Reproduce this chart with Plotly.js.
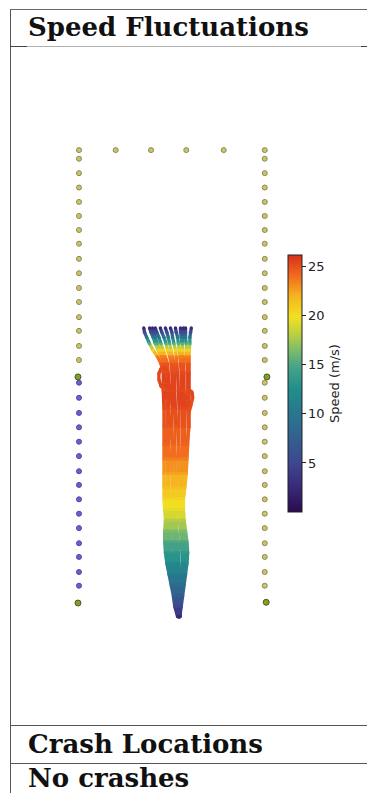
<!DOCTYPE html>
<html><head><meta charset="utf-8">
<script src="https://cdn.plot.ly/plotly-3.0.1.min.js"></script>
<style>html,body{margin:0;padding:0;background:#fff;} #chart{width:367px;height:793px;}</style>
</head><body><div id="chart"></div>
<script>
// ---- boundary points (metres) ----
const leftOliveY  = [61.7, 59.7, 57.7, 55.7, 53.75, 51.8, 49.9, 47.8, 45.8, 43.75, 41.8, 39.7, 37.8, 35.7, 33.75];
const leftBlueY   = [30.6, 28.5, 26.4, 24.4, 22.4, 20.4, 18.3, 16.4, 14.4, 12.4, 10.4, 8.3, 6.4, 4.3, 2.4];
const rightOliveY = [61.7, 59.7, 57.7, 55.7, 53.75, 51.8, 49.9, 47.8, 45.8, 43.75, 41.8, 39.7, 37.8, 35.7, 33.75,
                     30.6, 28.5, 26.4, 24.4, 22.4, 20.4, 18.3, 16.4, 14.4, 12.4, 10.4, 8.3, 6.4, 4.3, 2.4];
const leftColX = 0.0;
const rightColX = 25.8;
const topRowX = [0.0, 5.1, 10.0, 14.9, 20.1, 25.8];
const topRowY = 62.9;
const goalX = [-0.14, 26.1, -0.14, 26.0];
const goalY = [31.4, 31.4, 0.0, 0.1];

// ---- trajectories: common stations ----
const stationY = [-1.9, -0.5, 1.0, 2.5, 4.0, 5.5, 7.0, 8.5, 10.0, 11.5, 13.0, 14.5, 16.0, 18.0, 20.0, 22.0, 24.5, 27.0, 29.5, 32.0, 33.2, 34.2, 35.1, 36.0, 36.9, 37.6, 38.2];
const stationSpeed = [2.5, 5.0, 7.0, 9.0, 10.5, 12.0, 13.5, 15.0, 16.5, 18.0, 19.5, 20.5, 21.5, 22.5, 23.5, 24.3, 24.8, 25.2, 25.3, 25.2, 24.8, 23.5, 20.5, 15.5, 10.0, 5.5, 2.5];

const traj01X = [13.7, 13.3, 13.1, 12.8, 12.5, 12.2, 12.0, 11.9, 11.9, 12.0, 11.9, 11.8, 11.8, 11.8, 11.8, 11.8, 11.8, 11.8, 11.7, 11.7, 11.4, 10.9, 10.3, 9.8, 9.4, 9.1, 9.0];
const traj02X = [13.8, 13.5, 13.3, 13.1, 12.8, 12.6, 12.4, 12.4, 12.3, 12.2, 12.2, 12.1, 12.2, 12.3, 12.2, 12.1, 12.2, 12.3, 12.1, 12.0, 11.8, 11.4, 11.0, 10.6, 10.3, 10.0, 9.8];
const traj03X = [13.8, 13.6, 13.4, 13.3, 13.1, 12.9, 12.8, 12.7, 12.6, 12.6, 12.5, 12.4, 12.4, 12.5, 12.6, 12.5, 12.6, 12.5, 12.6, 12.4, 12.3, 12.0, 11.7, 11.4, 11.1, 10.8, 10.6];
const traj04X = [13.9, 13.7, 13.6, 13.5, 13.4, 13.3, 13.2, 13.1, 13.0, 12.9, 12.8, 12.8, 12.9, 12.9, 13.0, 13.0, 12.9, 13.0, 13.0, 12.9, 12.8, 12.6, 12.3, 12.1, 11.8, 11.5, 11.3];
const traj05X = [13.9, 13.8, 13.7, 13.7, 13.6, 13.5, 13.5, 13.4, 13.3, 13.2, 13.1, 13.1, 13.2, 13.3, 13.4, 13.3, 13.4, 13.4, 13.3, 13.3, 13.2, 13.0, 12.8, 12.6, 12.4, 12.2, 12.0];
const traj06X = [13.9, 13.9, 13.9, 13.9, 13.9, 13.8, 13.8, 13.8, 13.6, 13.5, 13.4, 13.5, 13.6, 13.7, 13.8, 13.8, 13.8, 13.9, 13.8, 13.7, 13.6, 13.5, 13.4, 13.2, 13.0, 12.9, 12.7];
const traj07X = [13.9, 14.0, 14.0, 14.1, 14.2, 14.3, 14.3, 14.2, 14.1, 13.9, 13.8, 13.8, 14.0, 14.1, 14.2, 14.3, 14.3, 14.3, 14.2, 14.2, 14.1, 14.0, 13.9, 13.8, 13.7, 13.5, 13.4];
const traj08X = [14.0, 14.1, 14.3, 14.4, 14.6, 14.7, 14.7, 14.6, 14.4, 14.2, 14.1, 14.1, 14.3, 14.5, 14.6, 14.7, 14.7, 14.7, 14.6, 14.6, 14.5, 14.5, 14.4, 14.3, 14.2, 14.1, 14.1];
const traj09X = [14.0, 14.2, 14.4, 14.6, 14.8, 15.0, 15.1, 15.0, 14.8, 14.6, 14.5, 14.5, 14.7, 14.9, 15.0, 15.1, 15.2, 15.1, 15.1, 15.1, 15.0, 14.9, 14.9, 14.9, 14.8, 14.8, 14.8];
const traj10X = [14.0, 14.1, 14.2, 14.5, 14.7, 14.9, 14.9, 14.8, 14.7, 14.5, 14.5, 14.5, 14.6, 14.7, 14.8, 15.0, 15.3, 15.3, 15.3, 15.3, 15.3, 15.3, 15.3, 15.4, 15.4, 15.5, 15.6];
const traj11X = [13.8, 13.5, 13.3, 13.0, 12.7, 12.4, 12.2, 12.1, 12.2, 12.4, 12.3, 12.3, 12.3, 12.2, 12.3, 12.4, 12.3, 12.2, 12.3, 12.2, 12.0, 11.7, 11.3, 10.9, 10.6, 10.4, 10.2];
const traj12X = [14.0, 14.0, 14.1, 14.2, 14.3, 14.4, 14.4, 14.3, 14.2, 14.1, 14.0, 14.0, 14.1, 14.3, 14.5, 14.5, 14.5, 14.6, 14.5, 14.4, 14.3, 14.2, 14.3, 14.4, 14.5, 14.5, 14.5];

// ---- looping trajectories ----
const loopLeftX = [12.2, 11.9, 11.4, 11.1, 11.1, 11.4, 11.8, 12.1, 12.1, 11.8, 11.7];
const loopLeftY = [28.2, 29.6, 30.1, 31.0, 31.9, 32.6, 32.8, 32.4, 31.5, 30.6, 29.9];
const loopLeftSpeed = [25.2, 25.2, 25.3, 25.3, 25.3, 25.2, 25.2, 25.3, 25.3, 25.2, 25.2];
const loopRightX = [15.3, 15.55, 15.8, 15.7, 15.3, 15.0, 15.1, 15.4];
const loopRightY = [26.5, 27.5, 28.5, 29.3, 29.6, 29.0, 28.1, 27.1];
const loopRightSpeed = [25.0, 25.1, 25.2, 25.3, 25.3, 25.2, 25.2, 25.1];

// ---- colour scale ----
const speedMin = 0, speedMax = 26.2;
const speedTicks = [5, 10, 15, 20, 25];
const speedScale = [[0, '#2b0b4f'], [0.1, '#3a2a7a'], [0.19, '#3e478e'], [0.3, '#32638f'], [0.38, '#2a758e'],
  [0.48, '#218f8b'], [0.57, '#4aa587'], [0.64, '#86c064'], [0.7, '#c2d23e'], [0.76, '#f2e022'],
  [0.84, '#f6b41f'], [0.92, '#f26a1e'], [1, '#d8301c']];

function hexToRgb(h){ return [parseInt(h.slice(1,3),16), parseInt(h.slice(3,5),16), parseInt(h.slice(5,7),16)]; }
function colorAt(v){
  let t = (v - speedMin) / (speedMax - speedMin);
  t = Math.max(0, Math.min(1, t));
  for (let i = 0; i < speedScale.length - 1; i++){
    const a = speedScale[i], b = speedScale[i+1];
    if (t >= a[0] && t <= b[0]){
      const f = (t - a[0]) / (b[0] - a[0]);
      const ca = hexToRgb(a[1]), cb = hexToRgb(b[1]);
      return 'rgb(' + ca.map((c,k)=>Math.round(c + (cb[k]-c)*f)).join(',') + ')';
    }
  }
  return speedScale[speedScale.length-1][1];
}

const trajList = [
  [traj01X, stationY, stationSpeed], [traj02X, stationY, stationSpeed], [traj03X, stationY, stationSpeed],
  [traj04X, stationY, stationSpeed], [traj05X, stationY, stationSpeed], [traj06X, stationY, stationSpeed],
  [traj07X, stationY, stationSpeed], [traj08X, stationY, stationSpeed], [traj09X, stationY, stationSpeed],
  [traj10X, stationY, stationSpeed], [traj11X, stationY, stationSpeed], [traj12X, stationY, stationSpeed],
  [loopLeftX, loopLeftY, loopLeftSpeed], [loopRightX, loopRightY, loopRightSpeed]
];

const bins = {};
const ptsX = [], ptsY = [], ptsS = [];
trajList.forEach(([xs, ys, sp]) => {
  for (let i = 0; i < xs.length; i++){
    ptsX.push(xs[i]); ptsY.push(ys[i]); ptsS.push(sp[i]);
    if (i < xs.length - 1){
      const s = (sp[i] + sp[i+1]) / 2;
      const key = (Math.round(s * 2) / 2).toFixed(1);
      if (!bins[key]) bins[key] = {x: [], y: []};
      bins[key].x.push(xs[i], xs[i+1], null);
      bins[key].y.push(ys[i], ys[i+1], null);
    }
  }
});

const traces = [];
const oliveMarker = {size: 5, color: '#cdc65a', line: {color: '#8a8866', width: 1}};
traces.push({type:'scatter', mode:'markers', x: leftOliveY.map(()=>leftColX), y: leftOliveY, marker: oliveMarker, hoverinfo:'skip'});
traces.push({type:'scatter', mode:'markers', x: rightOliveY.map(()=>rightColX), y: rightOliveY, marker: oliveMarker, hoverinfo:'skip'});
traces.push({type:'scatter', mode:'markers', x: topRowX, y: topRowX.map(()=>topRowY), marker: oliveMarker, hoverinfo:'skip'});
traces.push({type:'scatter', mode:'markers', x: leftBlueY.map(()=>leftColX), y: leftBlueY,
  marker: {size: 5, color: '#6d60d2', line: {color: '#4b45a6', width: 1}}, hoverinfo:'skip'});
traces.push({type:'scatter', mode:'markers', x: goalX, y: goalY,
  marker: {size: 6, color: '#82a022', line: {color: '#4f5a28', width: 1}}, hoverinfo:'skip'});

Object.keys(bins).sort((a,b)=>parseFloat(a)-parseFloat(b)).forEach(k => {
  traces.push({type:'scatter', mode:'lines', x: bins[k].x, y: bins[k].y,
    line: {color: colorAt(parseFloat(k)), width: 3.3}, hoverinfo:'skip', connectgaps:false});
});

traces.push({type:'scatter', mode:'markers', x: ptsX, y: ptsY, hoverinfo:'skip',
  marker: {size: 3.3, color: ptsS, colorscale: speedScale, cmin: speedMin, cmax: speedMax, showscale: true,
    colorbar: {x: 288/367, xanchor: 'left', xpad: 0, ypad: 0, y: 1 - 383.5/793, yanchor: 'middle',
      len: 257, lenmode: 'pixels', thickness: 14, outlinewidth: 1, outlinecolor: '#222',
      tickvals: speedTicks, ticks: 'outside', ticklen: 3.5, tickwidth: 1, tickcolor: '#222',
      tickfont: {family: 'DejaVu Sans', size: 13, color: '#222'},
      title: {text: 'Speed (m/s)', side: 'right', font: {family: 'DejaVu Sans', size: 13, color: '#222'}}}}});

const W = 367, H = 793;
const px = v => v / W, py = v => 1 - v / H;
function hline(y, x0, x1, color){ return {type:'line', xref:'paper', yref:'paper', x0: px(x0), x1: px(x1), y0: py(y), y1: py(y), line:{color: color, width:1}, layer:'above'}; }
const shapes = [
  {type:'line', xref:'paper', yref:'paper', x0: px(10.5), x1: px(10.5), y0: py(9), y1: 0, line:{color:'#555', width:1}, layer:'above'},
  hline(9.5, 10, 367, '#666'),
  hline(46.5, 27, 361, '#b0b0b0'),
  hline(46.5, 10, 27, '#444'),
  hline(46.5, 361, 367, '#444'),
  hline(725.5, 10, 367, '#555'),
  hline(763.5, 10, 367, '#555')
];
const tFont = {family: 'DejaVu Serif', size: 26, color: '#111'};
const annotations = [
  {text: '<b>Speed Fluctuations</b>', xref:'paper', yref:'paper', x: px(26), y: py(27.4), xanchor:'left', yanchor:'middle', showarrow:false, font: tFont},
  {text: '<b>Crash Locations</b>', xref:'paper', yref:'paper', x: px(26), y: py(744.4), xanchor:'left', yanchor:'middle', showarrow:false, font: tFont},
  {text: '<b>No crashes</b>', xref:'paper', yref:'paper', x: px(26), y: py(778.4), xanchor:'left', yanchor:'middle', showarrow:false, font: tFont}
];

const layout = {
  width: W, height: H, margin: {l:0, r:0, t:0, b:0}, paper_bgcolor:'#fff', plot_bgcolor:'rgba(0,0,0,0)',
  showlegend: false,
  xaxis: {range: [-10.97, 40.0], visible: false, fixedrange: true},
  yaxis: {range: [-17.36, 77.22], domain: [65/793, 746/793], visible: false, fixedrange: true},
  shapes: shapes, annotations: annotations
};
Plotly.newPlot('chart', traces, layout, {displayModeBar: false, staticPlot: true});
</script></body></html>
